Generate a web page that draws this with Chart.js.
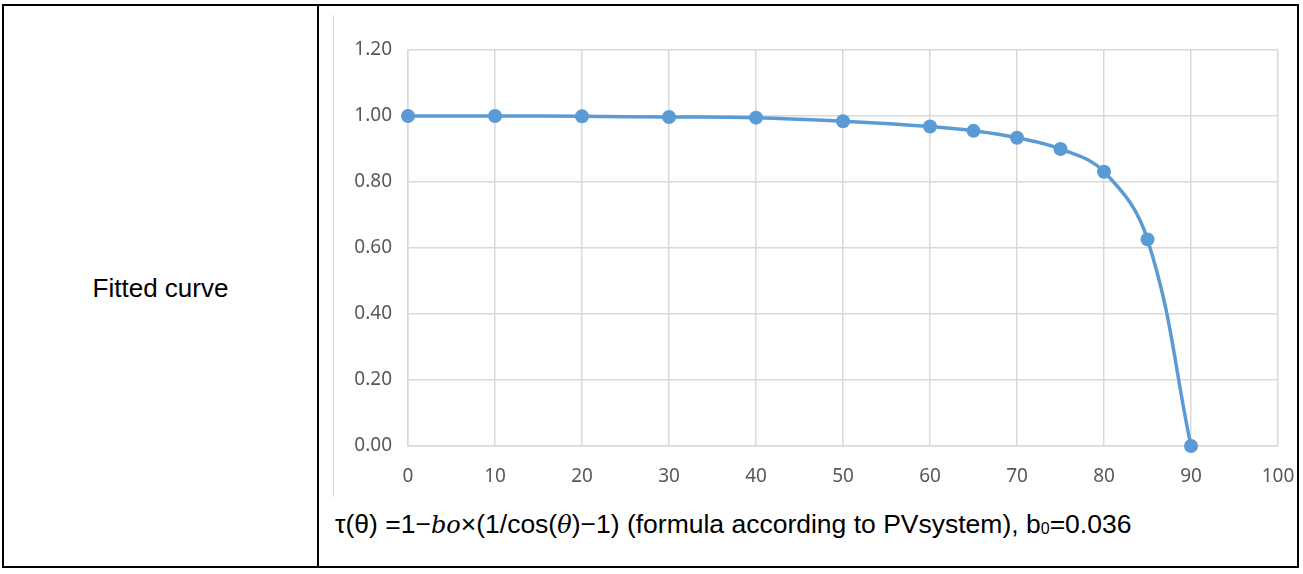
<!DOCTYPE html>
<html>
<head>
<meta charset="utf-8">
<script src="https://cdn.jsdelivr.net/npm/chart.js@4"></script>
<style>
  html, body { margin: 0; padding: 0; background: #fff; }
  body { width: 1303px; height: 574px; position: relative; overflow: hidden; font-family: "Liberation Sans", Arial, sans-serif; }
  .frame { position: absolute; left: 2px; top: 4px; width: 1293px; height: 560px; border: 2px solid #000; }
  .divider { position: absolute; left: 317px; top: 4px; width: 2px; height: 564px; background: #000; }
  .label { position: absolute; left: 4px; width: 313px; top: 273px; line-height: 30px; text-align: center; font-size: 26px; color: #000; }
  .chart-edge { position: absolute; left: 333px; top: 15px; width: 1px; height: 482px; background: #d9d9d9; }
  .chart-box { position: absolute; left: 334px; top: 14px; width: 963px; height: 484px; }
  .caption { position: absolute; left: 335px; top: 509px; line-height: 30px; font-size: 26.5px; color: #000; white-space: nowrap; }
  .caption i { font-family: "DejaVu Serif", "Liberation Serif", serif; font-size: 24px; }
  .caption sub { font-size: 16px; vertical-align: -1px; line-height: 0; }
</style>
</head>
<body>
<div class="frame"></div>
<div class="divider"></div>
<div class="label">Fitted curve</div>
<div class="chart-edge"></div>
<div class="chart-box"><canvas id="chart"></canvas></div>
<div class="caption">τ(θ) =1−<i>bo</i>×(1/cos(<i>θ</i>)−1) (formula according to PVsystem), b<sub>0</sub>=0.036</div>

<script>
/* incidence angle (deg) vs transmission factor */
const ANGLES = [0, 10, 20, 30, 40, 50, 60, 65, 70, 75, 80, 85, 90];
const TRANSMISSION = [1.00, 1.00, 0.999, 0.997, 0.995, 0.984, 0.968, 0.955, 0.934, 0.900, 0.831, 0.626, 0.00];

const X_MIN = 0, X_MAX = 100, X_STEP = 10;
const Y_MIN = 0, Y_MAX = 1.2, Y_STEP = 0.2;

const BLUE = "#5b9bd5";
const GRID = "#d9d9d9";
const TICK = "#595959";

const tickFont = { family: "'Noto Sans', 'Open Sans', sans-serif", size: 19 };

new Chart(document.getElementById("chart"), {
  type: "line",
  data: {
    datasets: [{
      data: ANGLES.map((a, i) => ({ x: a, y: TRANSMISSION[i] })),
      borderColor: BLUE,
      backgroundColor: BLUE,
      pointBackgroundColor: BLUE,
      pointBorderWidth: 0,
      pointRadius: 7,
      borderWidth: 3.5,
      tension: 0.4,
      clip: false
    }]
  },
  options: {
    responsive: true, maintainAspectRatio: false,
    animation: false,
    layout: { padding: { top: 36, right: 19, left: 0, bottom: 0 } },
    plugins: { legend: { display: false }, tooltip: { enabled: false } },
    scales: {
      x: {
        type: "linear", min: X_MIN, max: X_MAX,
        grid: { color: GRID, lineWidth: 1.5, drawTicks: false },
        border: { color: GRID, width: 1.5 },
        ticks: { stepSize: X_STEP, color: TICK, font: tickFont, padding: 19, maxRotation: 0 },
        afterFit: s => { s.height = 52; s.paddingLeft = 0; s.paddingRight = 0; }
      },
      y: {
        min: Y_MIN, max: Y_MAX,
        grid: { color: GRID, lineWidth: 1.5, drawTicks: false },
        border: { color: GRID, width: 1.5 },
        ticks: { stepSize: Y_STEP, color: TICK, font: tickFont, padding: 16, callback: v => v.toFixed(2) },
        afterFit: s => { s.width = 74; }
      }
    }
  }
});
</script>
</body>
</html>
